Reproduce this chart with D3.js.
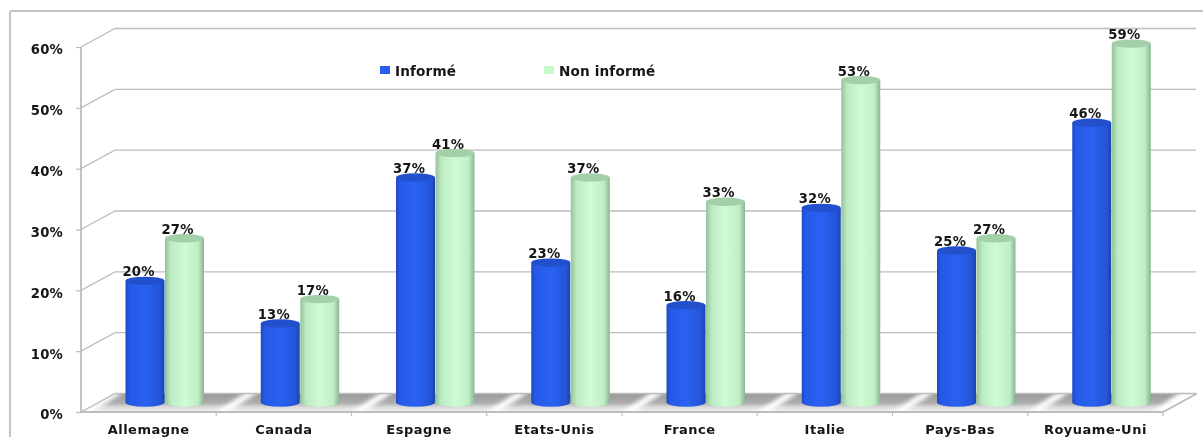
<!DOCTYPE html>
<html><head><meta charset="utf-8">
<script src="https://cdn.jsdelivr.net/npm/d3@7"></script>
<style>html,body{margin:0;padding:0;background:#fff;overflow:hidden}svg{display:block}
text{font-family:"DejaVu Sans",sans-serif;font-weight:bold;fill:#151515}</style></head>
<body><svg id="c" width="1203" height="437"></svg>
<script>
const categories=["Allemagne","Canada","Espagne","Etats-Unis","France","Italie","Pays-Bas","Royuame-Uni"];
const informe=[20,13,37,23,16,32,25,46];
const nonInforme=[27,17,41,37,33,53,27,59];
const yTicks=[0,10,20,30,40,50,60];
const seriesNames=["Informé","Non informé"];

const svg=d3.select("#c");
const defs=svg.append("defs");
const W=1203,H=437;
const depthX=34,depthY=-18.5;
const x=d3.scaleBand().domain(categories).range([81,1163]);
const y=d3.scaleLinear().domain([0,60]).range([412,47]);
const barW=39, barOff=44.5, rx=19.5, ry=4.2;

function grad(id,stops,attrs){const g=defs.append("linearGradient").attr("id",id);
  if(attrs)Object.entries(attrs).forEach(([k,v])=>g.attr(k,v));
  stops.forEach(([o,c])=>g.append("stop").attr("offset",o).attr("stop-color",c));}
grad("gBlue",[[0,"#1f4ac0"],[.1,"#2659e6"],[.5,"#2a62f2"],[.88,"#2555d8"],[1,"#1c44ae"]]);
grad("gGreen",[[0,"#94c29c"],[.15,"#bcebc2"],[.5,"#d0fbd4"],[.85,"#bfeec5"],[1,"#8ab494"]]);
grad("gFloor",[[0,"#989898"],[.5,"#adadad"],[.75,"#dcdcdc"],[1,"#f2f2f2"]],{x1:"0",y1:"0",x2:"0",y2:"1"});
const blur=(id,s)=>defs.append("filter").attr("id",id).attr("x","-20%").attr("y","-40%").attr("width","140%").attr("height","180%")
  .append("feGaussianBlur").attr("stdDeviation",s);
blur("soft",0.5);blur("soft2",2.2);

const gray="#bdbdbd";
svg.append("path").attr("d",`M10,${H+2}V13Q10,11 12,11H${W+2}`).attr("fill","none").attr("stroke","#c4c4c4").attr("stroke-width",2);

const L=x.range()[0],R=x.range()[1];
const floorPath=`M${L},${y(0)}l${depthX},${depthY}H${R+depthX}L${R},${y(0)}Z`;
const floor=svg.append("g");
defs.append("clipPath").attr("id","floorClip").append("path").attr("d",floorPath);
floor.append("path").attr("d",floorPath).attr("fill","url(#gFloor)");
const streaks=floor.append("g").attr("clip-path","url(#floorClip)");
streaks.selectAll("path.streak").data(categories).join("path").attr("class","streak")
 .attr("d",d=>{const a=x(d)-3,t=y(0)+depthY-2,u=y(0)+2;
   return `M${a},${u}L${a+34},${t}H${a+46}L${a+12},${u}Z`;})
 .attr("fill","#fff").attr("filter","url(#soft2)");
streaks.append("path").attr("d",`M${R-14},${y(0)+2}L${R+18},${y(0)+depthY-2}H${R+40}V${y(0)+2}Z`)
 .attr("fill","#fff").attr("filter","url(#soft2)");

const grid=svg.append("g");
yTicks.forEach(t=>{
  grid.append("path").attr("d",`M${L},${y(t)}l${depthX},${depthY}H${R+depthX-1}`)
    .attr("fill","none").attr("stroke",gray).attr("stroke-width",1.3);
});
grid.append("path").attr("d",`M${L},${y(0)}V${y(60)}`).attr("stroke",gray).attr("stroke-width",1.8);
grid.append("path").attr("d",`M${L},${y(0)}H${R}l${depthX},${depthY}`).attr("fill","none").attr("stroke",gray).attr("stroke-width",1.8);

const yAxis=svg.append("g").attr("transform",`translate(${L},0)`)
  .call(d3.axisLeft(y).tickValues(yTicks).tickFormat(d=>d+"%").tickSize(5).tickPadding(13));
yAxis.select(".domain").remove();
yAxis.selectAll("line").attr("stroke",gray).attr("stroke-width",1.2);
yAxis.selectAll("text").attr("font-size",13.2).attr("letter-spacing",.2).attr("dy","0.52em").style("font-family",'"DejaVu Sans",sans-serif').style("font-weight","bold").attr("filter","url(#soft)");

const xAxis=svg.append("g").attr("transform",`translate(0,${y(0)})`)
  .call(d3.axisBottom(x).tickSize(0));
xAxis.select(".domain").remove();
xAxis.selectAll("line").remove();
xAxis.selectAll("text").attr("font-size",13).attr("letter-spacing",.5).attr("y",21.5).attr("dy",0).style("font-family",'"DejaVu Sans",sans-serif').style("font-weight","bold").attr("filter","url(#soft)");
x.domain().slice(1).map(x).concat([R]).forEach(px=>
  svg.append("line").attr("x1",px).attr("x2",px).attr("y1",y(0)).attr("y2",y(0)+4).attr("stroke",gray).attr("stroke-width",1.2));

const base=y(0)-9.5;
const barY=v=>base-(y(0)-y(v));
function cyl(g,vals,off,fill,cap){
  const s=g.append("g");
  s.selectAll("path.body").data(categories).join("path").attr("class","body")
   .attr("d",(d,i)=>{const a=x(d)+off,t=barY(vals[i]);
     return `M${a},${t}V${base}A${rx},${ry} 0 0 0 ${a+barW},${base}V${t}Z`;})
   .attr("fill",fill);
  s.selectAll("ellipse").data(categories).join("ellipse")
   .attr("cx",d=>x(d)+off+rx).attr("cy",(d,i)=>barY(vals[i])).attr("rx",rx).attr("ry",ry)
   .attr("fill",cap);
}
const bars=svg.append("g").attr("filter","url(#soft)");
cyl(bars,informe,barOff,"url(#gBlue)","#2150cc");
cyl(bars,nonInforme,barOff+barW+.5,"url(#gGreen)","#a3cfa9");

const lab=svg.append("g").attr("filter","url(#soft)").attr("text-anchor","middle").attr("font-size",13.2).attr("letter-spacing",.2);
lab.selectAll("text.a").data(categories).join("text").attr("class","a")
  .attr("x",d=>x(d)+barOff+rx-6.5).attr("y",(d,i)=>barY(informe[i])-4.5).text((d,i)=>informe[i]+"%");
lab.selectAll("text.b").data(categories).join("text").attr("class","b")
  .attr("x",d=>x(d)+barOff+barW+rx-6.5).attr("y",(d,i)=>barY(nonInforme[i])-4.5).text((d,i)=>nonInforme[i]+"%");

const leg=svg.append("g").attr("filter","url(#soft)");
const legX=[380,544],legC=["#2c5cf0","#c8f7cc"];
seriesNames.forEach((n,i)=>{
  leg.append("rect").attr("x",legX[i]).attr("y",66).attr("width",10).attr("height",8).attr("fill",legC[i]);
  leg.append("text").attr("x",legX[i]+15).attr("y",76).attr("font-size",13.6).attr("letter-spacing",.15).text(n);
});
</script></body></html>
